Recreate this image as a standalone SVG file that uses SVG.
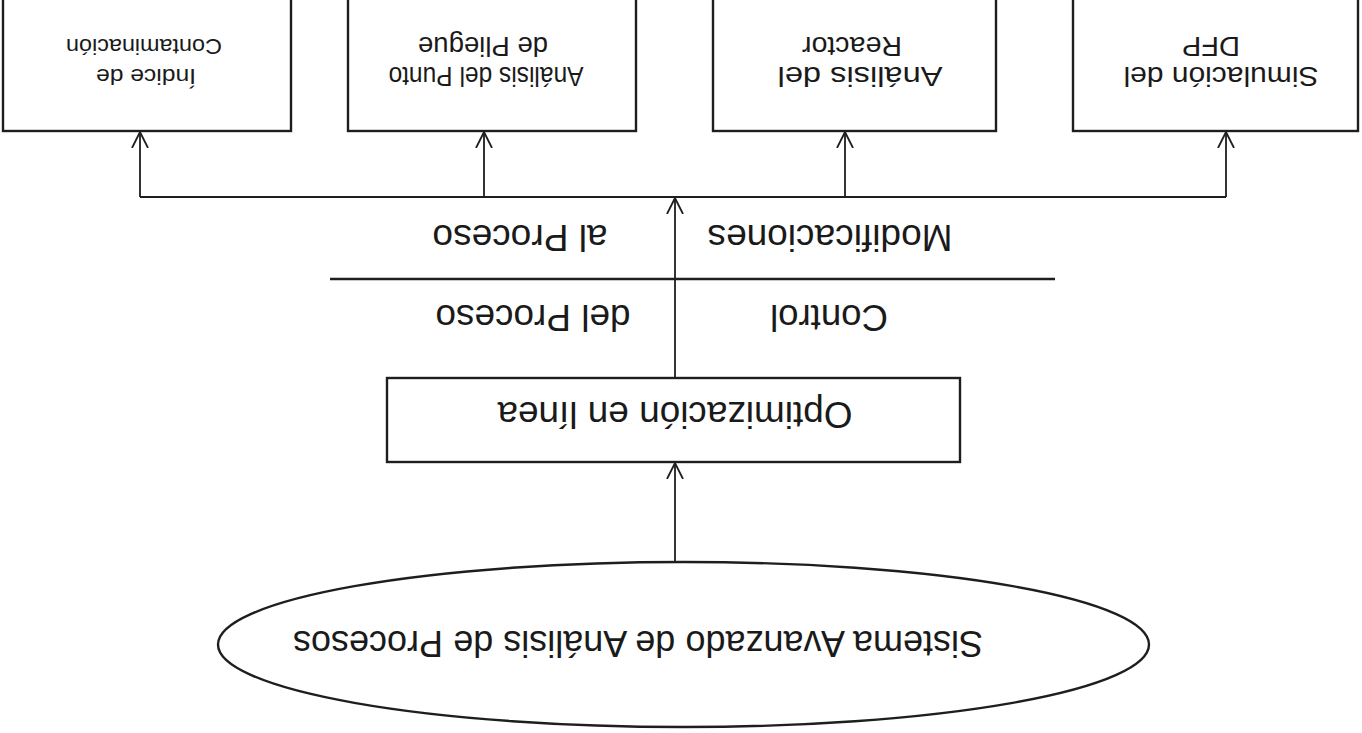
<svg xmlns="http://www.w3.org/2000/svg" width="1362" height="733" viewBox="0 0 1362 733">
  <style>
    .box { fill: #ffffff; stroke: #1e1e1e; stroke-width: 2.4; }
    .wire { fill: none; stroke: #1e1e1e; stroke-width: 1.8; }
    .rule { fill: none; stroke: #1e1e1e; stroke-width: 2.4; }
    .lbl { font-family: "Liberation Sans", Arial, sans-serif; fill: #1a1a1a; text-anchor: middle; }
    .big { font-size: 36px; }
    .mid { font-size: 27px; }
    .tiny { font-size: 22px; }
  </style>
  <defs>
    <marker id="vhead" viewBox="0 0 16 18" refX="16" refY="9" markerWidth="16" markerHeight="18" markerUnits="userSpaceOnUse" orient="auto">
      <path d="M0,1 L16,9 L0,17" fill="none" stroke="#1e1e1e" stroke-width="1.8"/>
    </marker>
  </defs>
  <rect width="1362" height="733" fill="#ffffff"/>

  <!-- the whole sheet is printed upside down: every label is turned by 180 degrees -->

  <g id="indice">
    <rect class="box" x="3" y="-5" width="288" height="136"/>
    <text class="lbl tiny" x="146" y="84.9" transform="rotate(180 146 77)" textLength="100" lengthAdjust="spacingAndGlyphs">Índice de</text>
    <text class="lbl tiny" x="144" y="54.9" transform="rotate(180 144 47)" textLength="156" lengthAdjust="spacingAndGlyphs">Contaminación</text>
  </g>

  <g id="pliegue">
    <rect class="box" x="348" y="-5" width="288" height="136"/>
    <text class="lbl mid" x="486" y="86.7" transform="rotate(180 486 77)" textLength="195" lengthAdjust="spacingAndGlyphs">Análisis del Punto</text>
    <text class="lbl mid" x="483" y="56.7" transform="rotate(180 483 47)" textLength="130" lengthAdjust="spacingAndGlyphs">de Pliegue</text>
  </g>

  <g id="reactor">
    <rect class="box" x="713" y="-5" width="283" height="136"/>
    <text class="lbl mid" x="860" y="86.7" transform="rotate(180 860 77)" textLength="165" lengthAdjust="spacingAndGlyphs">Análisis del</text>
    <text class="lbl mid" x="852" y="56.7" transform="rotate(180 852 47)" textLength="100" lengthAdjust="spacingAndGlyphs">Reactor</text>
  </g>

  <g id="dfp">
    <rect class="box" x="1073" y="-5" width="285" height="136"/>
    <text class="lbl mid" x="1221" y="86.7" transform="rotate(180 1221 77)" textLength="195" lengthAdjust="spacingAndGlyphs">Simulación del</text>
    <text class="lbl mid" x="1211" y="56.7" transform="rotate(180 1211 47)" textLength="58" lengthAdjust="spacingAndGlyphs">DFP</text>
  </g>

  <g id="optimizacion">
    <rect class="box" x="387" y="378" width="573" height="84"/>
    <text class="lbl big" x="675" y="427.9" transform="rotate(180 675 415)" textLength="355" lengthAdjust="spacingAndGlyphs">Optimización en línea</text>
  </g>

  <g id="sistema">
    <ellipse class="box" cx="683.5" cy="644.5" rx="465.5" ry="82.5"/>
    <text class="lbl big" x="638" y="656.9" transform="rotate(180 638 644)" textLength="690" lengthAdjust="spacingAndGlyphs">Sistema Avanzado de Análisis de Procesos</text>
  </g>

  <g id="etiquetas">
    <line class="rule" x1="330" y1="279" x2="1055" y2="279"/>
    <text class="lbl big" x="830" y="250.9" transform="rotate(180 830 238)" textLength="245" lengthAdjust="spacingAndGlyphs">Modificaciones</text>
    <text class="lbl big" x="520" y="250.9" transform="rotate(180 520 238)" textLength="175" lengthAdjust="spacingAndGlyphs">al Proceso</text>
    <text class="lbl big" x="829" y="330.9" transform="rotate(180 829 318)" textLength="118" lengthAdjust="spacingAndGlyphs">Control</text>
    <text class="lbl big" x="533" y="330.9" transform="rotate(180 533 318)" textLength="195" lengthAdjust="spacingAndGlyphs">del Proceso</text>
  </g>

  <g id="connectors">
    <line class="wire" x1="675" y1="562" x2="675" y2="463" marker-end="url(#vhead)"/>
    <line class="wire" x1="675" y1="378" x2="675" y2="198" marker-end="url(#vhead)"/>
    <polyline class="wire" points="140,197 1226,197"/>
    <line class="wire" x1="140" y1="197" x2="140" y2="132" marker-end="url(#vhead)"/>
    <line class="wire" x1="484" y1="197" x2="484" y2="132" marker-end="url(#vhead)"/>
    <line class="wire" x1="845" y1="197" x2="845" y2="132" marker-end="url(#vhead)"/>
    <line class="wire" x1="1226" y1="197" x2="1226" y2="132" marker-end="url(#vhead)"/>
  </g>
</svg>
